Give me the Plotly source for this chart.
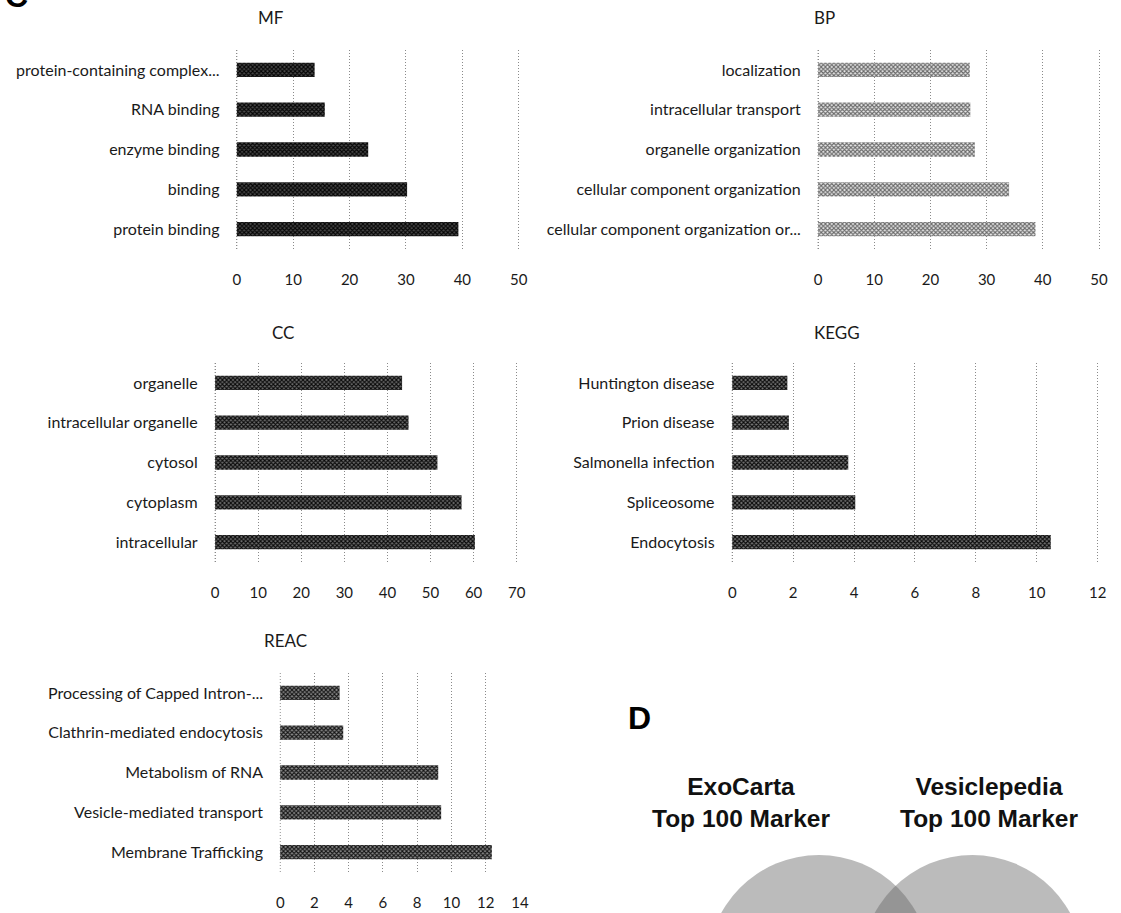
import plotly.graph_objects as go

W, H = 1121, 913

mf_labels = ["protein-containing complex...", "RNA binding", "enzyme binding", "binding", "protein binding"]
mf_values = [13.8, 15.6, 23.3, 30.2, 39.3]

bp_labels = ["localization", "intracellular transport", "organelle organization",
             "cellular component organization", "cellular component organization or..."]
bp_values = [27.0, 27.1, 27.9, 34.0, 38.7]

cc_labels = ["organelle", "intracellular organelle", "cytosol", "cytoplasm", "intracellular"]
cc_values = [43.4, 44.9, 51.6, 57.2, 60.3]

kegg_labels = ["Huntington disease", "Prion disease", "Salmonella infection", "Spliceosome", "Endocytosis"]
kegg_values = [1.81, 1.86, 3.81, 4.04, 10.46]

reac_labels = ["Processing of Capped Intron-...", "Clathrin-mediated endocytosis", "Metabolism of RNA",
               "Vesicle-mediated transport", "Membrane Trafficking"]
reac_values = [3.47, 3.68, 9.23, 9.40, 12.36]

venn_titles = ["ExoCarta<br>Top 100 Marker", "Vesiclepedia<br>Top 100 Marker"]

FONT = "Lato, 'Open Sans', sans-serif"
GRID = "#8a8a8a"
DASH = "1px,2px"

# panel: (title, labels, values, xmax, dtick, box px (x0,x1,y0,y1), title pos px, fg, bg)
panels = [
    ("MF", mf_labels, mf_values, 50, 10, (235, 522, 50, 249), (271, 17), "#050505", "#4a4a4a"),
    ("BP", bp_labels, bp_values, 50, 10, (822, 1108, 50, 249), (830, 17), "#6a6a6a", "#e8e8e8"),
    ("CC", cc_labels, cc_values, 70, 10, (213, 520, 363, 562), (283, 332), "#0a0a0a", "#6e6e6e"),
    ("KEGG", kegg_labels, kegg_values, 12, 2, (735, 1107, 363, 562), (842, 332), "#0a0a0a", "#787878"),
    ("REAC", reac_labels, reac_values, 14, 2, (279, 523, 673, 872), (285, 640), "#151515", "#8a8a8a"),
]

fig = go.Figure()
annotations = []
shapes = []
for i, (title, labels, values, xmax, dtick, box, tpos, fg, bg) in enumerate(panels, start=1):
    sx = "" if i == 1 else str(i)
    x0, x1, y0, y1 = box
    pad = xmax * 0.004
    fig.add_trace(go.Bar(
        x=values, y=labels, orientation="h",
        xaxis="x" + sx, yaxis="y" + sx,
        width=0.36,
        marker=dict(color=fg, line=dict(width=0),
                    pattern=dict(shape="x", fgcolor=fg, bgcolor=bg, size=3, solidity=0.6,
                                 fillmode="replace")),
        showlegend=False, hoverinfo="x+y",
    ))
    fig.layout["xaxis" + sx] = dict(
        domain=[x0 / W, x1 / W], anchor="y" + sx, range=[-pad, xmax + pad], dtick=dtick, tick0=0,
        showgrid=True, gridcolor=GRID, griddash=DASH, gridwidth=1, zeroline=False,
        showline=False, ticks="outside", ticklen=17, tickcolor="rgba(0,0,0,0)",
        tickfont=dict(family=FONT, size=15, color="#1a1a1a"), fixedrange=True,
    )
    fig.layout["yaxis" + sx] = dict(
        domain=[1 - y1 / H, 1 - y0 / H], anchor="x" + sx, autorange="reversed",
        type="category", showgrid=False, zeroline=False, showline=False,
        ticks="outside", ticklen=12, tickcolor="rgba(0,0,0,0)",
        tickfont=dict(family=FONT, size=16, color="#1a1a1a"), fixedrange=True,
    )
    # dotted line at the value axis origin (category axis line)
    shapes.append(dict(type="line", xref="x" + sx, yref="y" + sx + " domain",
                       x0=0, x1=0, y0=0, y1=1, layer="below",
                       line=dict(color=GRID, width=1, dash=DASH)))
    annotations.append(dict(text=title, x=tpos[0] / W, y=1 - tpos[1] / H, xref="paper", yref="paper",
                            xanchor="center", yanchor="middle", showarrow=False,
                            font=dict(family=FONT, size=17, color="#1a1a1a")))

# panel labels
annotations.append(dict(text="<b>C</b>", x=14 / W, y=1 - 16 / H, xref="paper", yref="paper",
                        xanchor="center", yanchor="bottom", showarrow=False,
                        font=dict(family="Liberation Sans, Arial", size=32, color="#000")))
annotations.append(dict(text="<b>D</b>", x=643 / W, y=1 - 718 / H, xref="paper", yref="paper",
                        xanchor="center", yanchor="middle", showarrow=False,
                        font=dict(family="Liberation Sans, Arial", size=32, color="#000")))

venn_font = dict(family="'Liberation Sans', Arial", size=24.5, color="#111")
for txt, cx in zip(venn_titles, [745, 996]):
    annotations.append(dict(text="<b>" + txt + "</b>", x=cx / W, y=1 - 802 / H, xref="paper", yref="paper",
                            xanchor="center", yanchor="middle", showarrow=False, align="center",
                            font=venn_font))

R = 113
for cx in [824, 979]:
    cy = 968
    shapes.append(dict(type="circle", xref="paper", yref="paper",
                       x0=(cx - R) / W, x1=(cx + R) / W, y0=1 - (cy + R) / H, y1=1 - (cy - R) / H,
                       fillcolor="rgba(105,105,105,0.45)", line=dict(width=0), layer="below"))

fig.update_layout(
    width=W, height=H, margin=dict(l=0, r=0, t=0, b=0),
    paper_bgcolor="white", plot_bgcolor="white",
    annotations=annotations, shapes=shapes, bargap=0.64,
    font=dict(family=FONT, color="#1a1a1a"),
)

fig.write_html("out.html", config={"displayModeBar": False},
               post_script="document.body.style.margin='0';document.body.style.overflow='hidden';")
